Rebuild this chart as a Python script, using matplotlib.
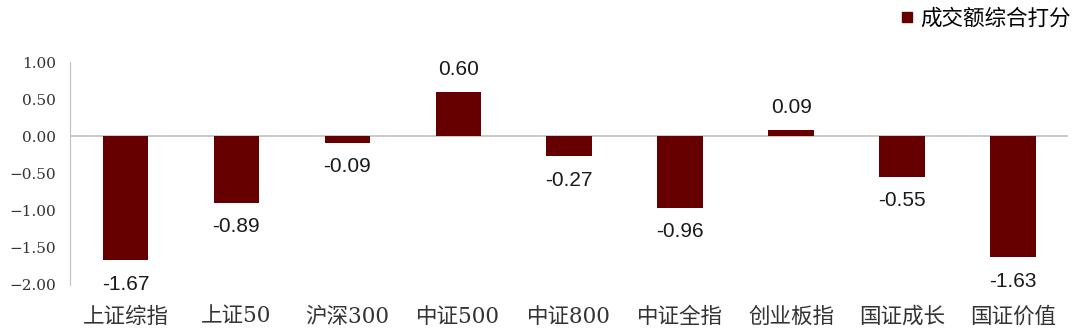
import matplotlib.pyplot as plt
from matplotlib.lines import Line2D
import numpy as np

plt.rcParams['font.family'] = ['Noto Sans CJK SC', 'DejaVu Sans']
plt.rcParams['axes.unicode_minus'] = True

categories = ['上证综指', '上证50', '沪深300', '中证500', '中证800', '中证全指', '创业板指', '国证成长', '国证价值']
scores = [-1.67, -0.89, -0.09, 0.60, -0.27, -0.96, 0.09, -0.55, -1.63]
bar_color = '#660000'

fig = plt.figure(figsize=(10.8, 3.32), dpi=100)
ax = fig.add_axes([0.0648, 0.1416, 0.9245, 0.6714])

x = np.arange(len(categories))
ax.bar(x, scores, width=0.41, color=bar_color, zorder=3)

# value labels: above positive bars, below negative ones
for xi, v in zip(x, scores):
    if v >= 0:
        ax.text(xi, v + 0.17, f'{v:.2f}', ha='center', va='bottom', fontsize=15,
                family=['Liberation Sans'], color='#1a1a1a')
    else:
        ax.text(xi, v - 0.19, f'{v:.2f}', ha='center', va='top', fontsize=15,
                family=['Liberation Sans'], color='#1a1a1a')

ax.set_xlim(-0.5, len(categories) - 0.5)
ax.set_ylim(-2.0, 1.0)
yt = np.arange(-2.0, 1.01, 0.5)
ax.set_yticks(yt)
ax.set_yticklabels([f'{t:.2f}'.replace('-', '−') for t in yt],
                   family=['DejaVu Serif'], fontsize=11, color='#333333')
ax.set_xticks(x)
ax.set_xticklabels(categories, family=['DejaVu Serif', 'Noto Sans CJK SC'], fontsize=15.5, color='#333333')

ax.axhline(0, color='#BFBFBF', linewidth=1.2, zorder=2)
for s in ['top', 'right', 'bottom']:
    ax.spines[s].set_visible(False)
ax.spines['left'].set_color('#BFBFBF')
ax.tick_params(axis='both', length=0)
ax.tick_params(axis='y', pad=10)
ax.tick_params(axis='x', pad=15)

handle = Line2D([], [], linestyle='none', marker='s', markersize=6.8,
                markerfacecolor=bar_color, markeredgecolor=bar_color)
ax.legend([handle], ['成交额综合打分'], loc='upper right', bbox_to_anchor=(1.009, 1.035),
          bbox_transform=fig.transFigure, frameon=False, fontsize=15.5,
          handlelength=0.5, handletextpad=0.35)

fig.savefig('out.png', dpi=100)
